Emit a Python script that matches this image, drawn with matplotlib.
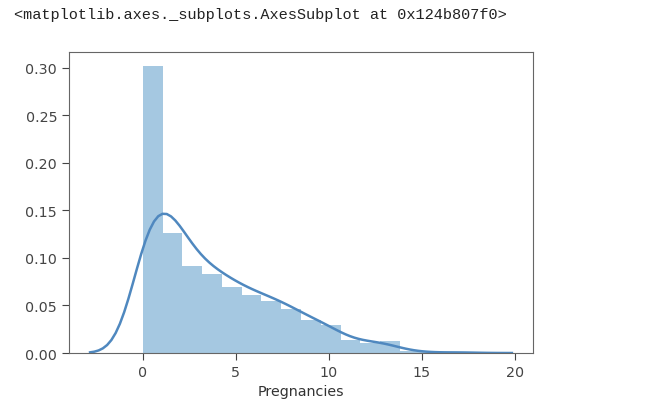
import numpy as np
import matplotlib
matplotlib.use("Agg")
import matplotlib.pyplot as plt

# number of pregnancies and how many women had that many (read back from the bar heights)
preg_values = [0, 1, 2, 3, 4, 5, 6, 7, 8, 9, 10, 11, 12, 13, 14, 15, 17]
preg_counts = [111, 135, 103, 75, 68, 57, 50, 45, 38, 28, 24, 11, 9, 10, 2, 1, 1]
n_bins = 16
x_ticks = [0, 5, 10, 15, 20]
y_ticks = [0.00, 0.05, 0.10, 0.15, 0.20, 0.25, 0.30]

data = np.repeat(np.array(preg_values, dtype=float), preg_counts)

# kde like the old distplot (scott bandwidth, cut=3, 100 points)
iqr = (np.percentile(data, 75) - np.percentile(data, 25)) / 1.349
sigma = min(np.std(data, ddof=1), iqr)
bw = 1.059 * sigma * len(data) ** (-0.2)
grid = np.linspace(data.min() - 3 * bw, data.max() + 3 * bw, 100)
dens = np.exp(-0.5 * ((grid[:, None] - data[None, :]) / bw) ** 2).sum(axis=1)
dens = dens / (len(data) * bw * np.sqrt(2 * np.pi))

fig = plt.figure(figsize=(6.64, 4.14), dpi=100)
fig.text(0.021, 0.963, "<matplotlib.axes._subplots.AxesSubplot at 0x124b807f0>",
         family="Liberation Mono", fontsize=11, color="#222222", va="center")

ax = fig.add_axes([0.1039, 0.1449, 0.6988, 0.727])
ax.hist(data, bins=n_bins, density=True, color="#1f77b4", alpha=0.4)
ax.plot(grid, dens, color="#4f88bf", linewidth=1.8)

ax.set_xticks(x_ticks)
ax.set_yticks(y_ticks)
ax.set_yticklabels(["%.2f" % v for v in y_ticks])
ax.set_xlabel("Pregnancies", fontsize=10.3, color="#333333")
ax.tick_params(colors="#444444", labelsize=10.3, length=5)
for s in ax.spines.values():
    s.set_color("#666666")

fig.savefig("out.png", dpi=100)
